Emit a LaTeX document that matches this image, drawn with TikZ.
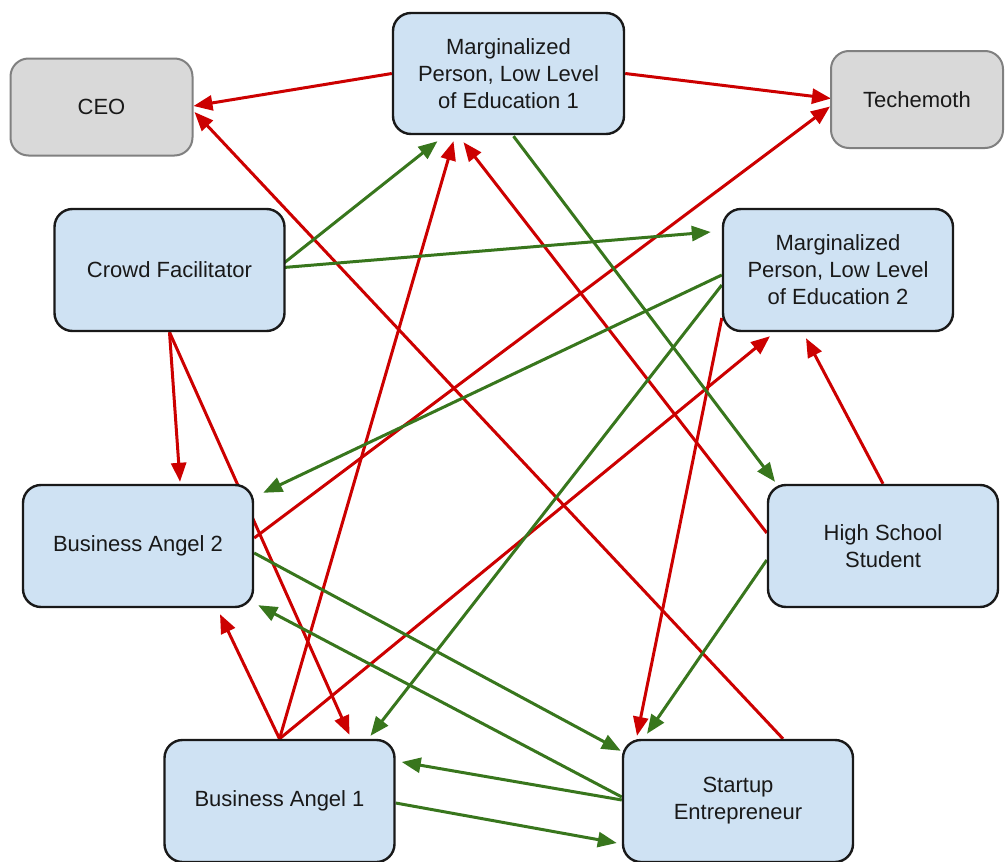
\documentclass[tikz,border=0pt]{standalone}
\usepackage{fontspec}
\setmainfont{Liberation Sans}
\usetikzlibrary{arrows.meta,calc,backgrounds}
\definecolor{boxblue}{HTML}{CFE2F3}
\definecolor{boxgray}{HTML}{D9D9D9}
\definecolor{redarr}{HTML}{CC0000}
\definecolor{greenarr}{HTML}{38761D}
\begin{document}
\begin{tikzpicture}[x=1pt,y=-1pt,
  box/.style={draw=black!90, line width=2.4pt, fill=boxblue, rounded corners=18pt,
    align=center, inner sep=0pt, font=\fontsize{22}{27}\selectfont, text=black!90,
    minimum width=230pt, minimum height=122pt},
  graybox/.style={box, fill=boxgray, draw=black!50, line width=2pt, minimum width=182pt, minimum height=97pt},
  redline/.style={draw=redarr, line width=3pt, -{Triangle[length=19pt,width=15pt]}},
  greenline/.style={draw=greenarr, line width=3pt, -{Triangle[length=19pt,width=15pt]}}
]
\useasboundingbox (0,0) rectangle (1005,862);

\node[graybox] (ceo) at (101.5,107) {CEO};
\node[graybox, minimum width=172pt] (tech) at (917,99.5) {Techemoth};
\node[box, minimum width=231pt, minimum height=121pt] (mp1) at (508.5,73.5) {Marginalized\\Person, Low Level\\of Education 1};
\node[box] (cf) at (169.5,270) {Crowd Facilitator};
\node[box] (mp2) at (838,270) {Marginalized\\Person, Low Level\\of Education 2};
\node[box] (ba2) at (138,546) {Business Angel 2};
\node[box] (hss) at (883,546) {High School\\Student};
\node[box] (ba1) at (279.5,801) {Business Angel 1};
\node[box] (se) at (738,801) {Startup\\Entrepreneur};

\begin{scope}[on background layer]
% red connectors
\draw[redline] (mp1.west) -- ($(ceo.east)+(0,-1)$);
\draw[redline] (mp1.east) -- ($(tech.west)+(1,-1)$);
\draw[redline] ($(se.north)+(45,0)$) -- ($(ceo.east)+(1,5)$);
\draw[redline] ($(ba2.east)+(0,-8)$) -- ($(tech.west)+(0,7)$);
\draw[redline] (ba1.north) -- ($(mp1.south)+(-55,6)$);
\draw[redline] (ba1.north) -- ($(mp2.south)+(-68,4)$);
\draw[redline] (ba1.north) -- ($(ba2.south)+(82,6)$);
\draw[redline] (cf.south) -- ($(ba2.north)+(42,-2)$);
\draw[redline] (cf.south) -- ($(ba1.north)+(70,-4)$);
\draw[redline] (hss.north) -- ($(mp2.south)+(-32,6)$);
\draw[redline] ($(mp2.west)+(0,48)$) -- ($(se.north)+(-101,-3)$);
\draw[redline] ($(hss.west)+(0,-13)$) -- ($(mp1.south)+(-45,7)$);
% green connectors
\draw[greenline] ($(cf.east)+(-8,-2)$) -- ($(mp1.south)+(-71,6)$);
\draw[greenline] ($(cf.east)+(-8,-2)$) -- ($(mp2.west)+(-11,-38)$);
\draw[greenline] ($(mp1.south)+(5,1)$) -- ($(hss.north)+(-108,-2)$);
\draw[greenline] ($(mp2.west)+(0,5)$) -- ($(ba2.north east)+(9,9)$);
\draw[greenline] ($(mp2.west)+(0,15)$) -- ($(ba1.north)+(91,-3)$);
\draw[greenline] ($(hss.west)+(0,14)$) -- ($(se.north)+(-91,-5)$);
\draw[greenline] ($(ba2.east)+(0,7)$) -- ($(se.north west)+(-1,12)$);
\draw[greenline] ($(se.west)+(0,-4)$) -- ($(ba2.south east)+(4,-3)$);
\draw[greenline] ($(se.west)+(0,-1)$) -- ($(ba1.east)+(6,-39)$);
\draw[greenline] ($(ba1.east)+(0,2)$) -- ($(se.west)+(-5,42)$);
\end{scope}
\end{tikzpicture}
\end{document}
